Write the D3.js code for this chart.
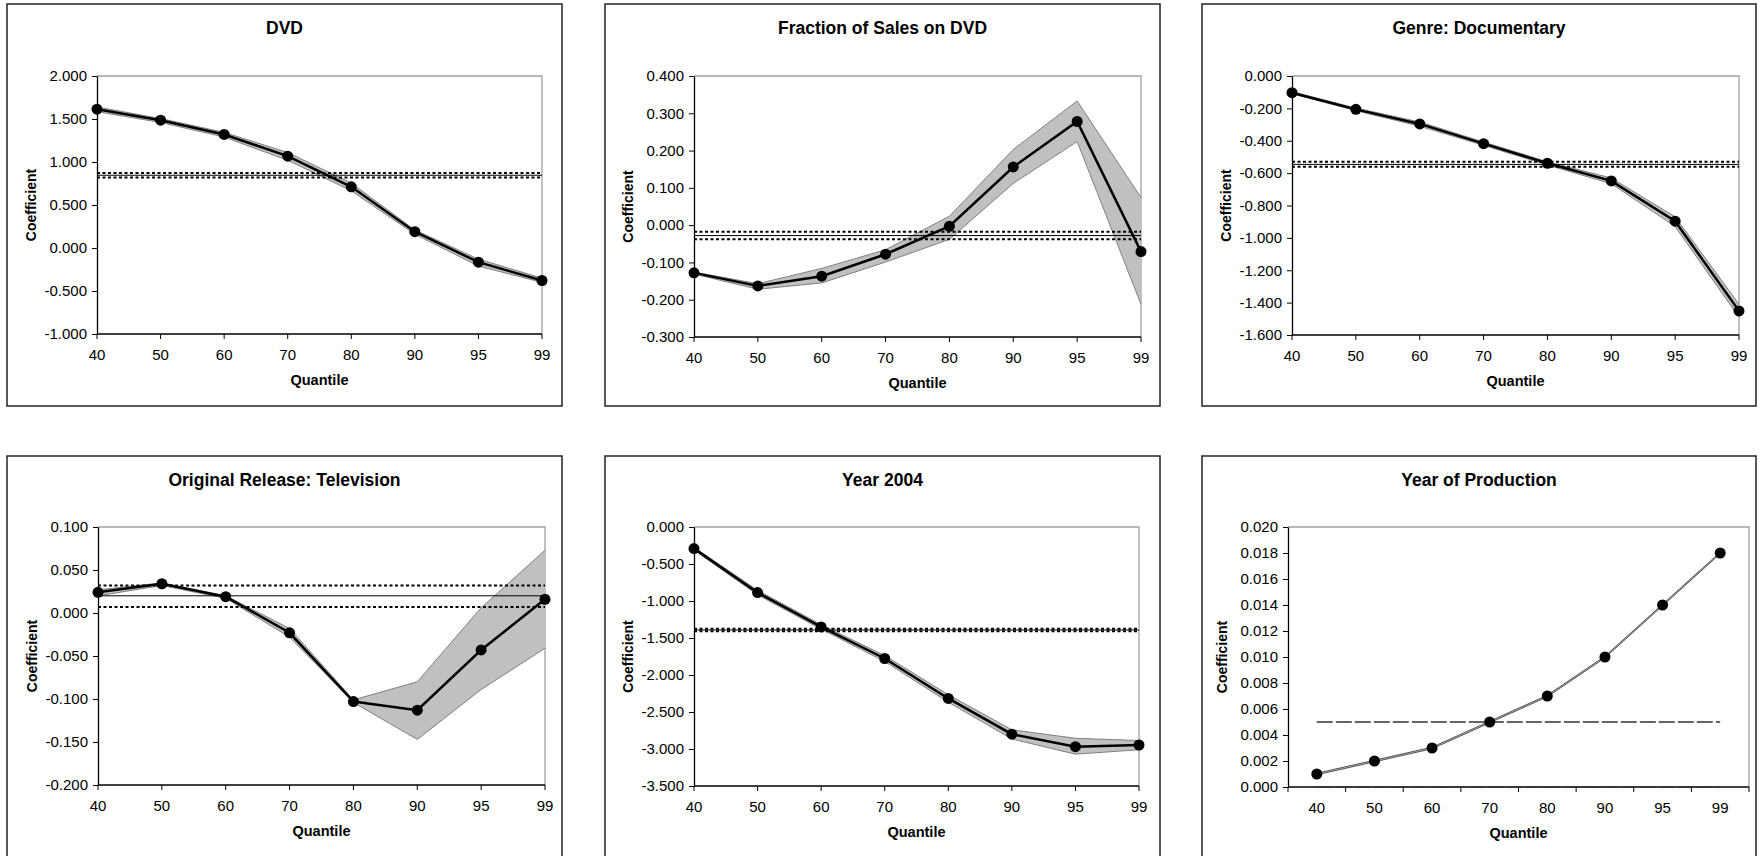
<!DOCTYPE html>
<html>
<head>
<meta charset="utf-8">
<script src="https://cdn.jsdelivr.net/npm/d3@7"></script>
<style>
    html, body { margin: 0; padding: 0; background: #fff; }
    svg { display: block; font-family: Arial, "Liberation Sans", sans-serif; }
</style>
</head>
<body>
<svg id="chart" width="1760" height="856"></svg>
<script>
// quantile regression coefficients
const quantiles = ['40', '50', '60', '70', '80', '90', '95', '99'];

const dvdCoef  = [1.614, 1.486, 1.320, 1.068, 0.712, 0.190, -0.165, -0.378];
const dvdUpper = [1.640, 1.505, 1.345, 1.110, 0.755, 0.210, -0.130, -0.350];
const dvdLower = [1.585, 1.460, 1.290, 1.020, 0.665, 0.160, -0.210, -0.400];
const dvdOls   = [0.846, 0.821, 0.871];

const fracCoef  = [-0.128, -0.163, -0.137, -0.078, -0.003, 0.156, 0.278, -0.071];
const fracUpper = [-0.126, -0.157, -0.116, -0.066, 0.024, 0.203, 0.333, 0.074];
const fracLower = [-0.131, -0.172, -0.155, -0.099, -0.038, 0.112, 0.224, -0.212];
const fracOls   = [-0.028, -0.038, -0.018];

const docCoef  = [-0.103, -0.206, -0.296, -0.418, -0.539, -0.648, -0.897, -1.451];
const docUpper = [-0.097, -0.198, -0.284, -0.408, -0.530, -0.630, -0.870, -1.410];
const docLower = [-0.110, -0.214, -0.310, -0.428, -0.550, -0.665, -0.930, -1.490];
const docOls   = [-0.546, -0.560, -0.530];

const tvCoef  = [0.024, 0.034, 0.019, -0.023, -0.103, -0.113, -0.043, 0.016];
const tvUpper = [0.027, 0.035, 0.020, -0.018, -0.101, -0.080, 0.006, 0.073];
const tvLower = [0.020, 0.032, 0.017, -0.028, -0.104, -0.147, -0.089, -0.041];
const tvOls   = [0.020, 0.007, 0.032];

const y04Coef  = [-0.292, -0.886, -1.350, -1.777, -2.317, -2.800, -2.969, -2.946];
const y04Upper = [-0.272, -0.856, -1.320, -1.737, -2.267, -2.740, -2.855, -2.885];
const y04Lower = [-0.312, -0.916, -1.380, -1.817, -2.367, -2.865, -3.070, -3.010];
const y04Ols   = [-1.392, -1.408, -1.376];

const prodCoef  = [0.0010, 0.0020, 0.0030, 0.0050, 0.0070, 0.0100, 0.0140, 0.0180];
const prodUpper = [0.00106, 0.00206, 0.00306, 0.00506, 0.00706, 0.01006, 0.01406, 0.01806];
const prodLower = [0.00094, 0.00194, 0.00294, 0.00494, 0.00694, 0.00994, 0.01394, 0.01794];
const prodOls   = [0.005, 0.000];

const titles = ['DVD', 'Fraction of Sales on DVD', 'Genre: Documentary',
    'Original Release: Television', 'Year 2004', 'Year of Production'];
const yDomains = [[-1, 2], [-0.3, 0.4], [-1.6, 0], [-0.2, 0.1], [-3.5, 0], [0, 0.02]];
const yTickSteps = [0.5, 0.1, 0.2, 0.05, 0.5, 0.002];

// layout (pixels)
const boxes = [
    { x: 7, y: 4, w: 555, h: 402 }, { x: 605, y: 4, w: 555, h: 402 }, { x: 1202, y: 4, w: 554, h: 402 },
    { x: 7, y: 456, w: 555, h: 402 }, { x: 605, y: 456, w: 555, h: 402 }, { x: 1202, y: 456, w: 554, h: 402 }
];
const plots = [
    { l: 97, r: 542, t: 76, b: 334 }, { l: 694, r: 1141, t: 76, b: 337 }, { l: 1292, r: 1739, t: 76, b: 335 },
    { l: 98, r: 545, t: 527, b: 785 }, { l: 694, r: 1139, t: 527, b: 786 }, { l: 1288, r: 1749, t: 527, b: 787 }
];

const panels = [
    { coef: dvdCoef, upper: dvdUpper, lower: dvdLower, ols: dvdOls },
    { coef: fracCoef, upper: fracUpper, lower: fracLower, ols: fracOls },
    { coef: docCoef, upper: docUpper, lower: docLower, ols: docOls },
    { coef: tvCoef, upper: tvUpper, lower: tvLower, ols: tvOls },
    { coef: y04Coef, upper: y04Upper, lower: y04Lower, ols: y04Ols },
    { coef: prodCoef, upper: prodUpper, lower: prodLower, ols: prodOls, between: true }
];

const svg = d3.select('#chart');

function drawPanel(i) {
    const p = panels[i];
    const box = boxes[i];
    const pl = plots[i];
    const g = svg.append('g');

    g.append('rect')
        .attr('x', box.x).attr('y', box.y)
        .attr('width', box.w).attr('height', box.h)
        .attr('fill', '#fff').attr('stroke', '#222').attr('stroke-width', 1.5);

    g.append('text')
        .attr('x', box.x + box.w / 2).attr('y', box.y + 30)
        .attr('text-anchor', 'middle')
        .attr('font-size', 17.5).attr('font-weight', 'bold')
        .text(titles[i]);

    // x scale: values on tick marks, or between them for the last panel
    let x, xTick;
    if (p.between) {
        const band = d3.scaleBand().domain(quantiles).range([pl.l, pl.r]).padding(0);
        x = q => band(q) + band.bandwidth() / 2;
        xTick = quantiles.map(q => band(q)).concat([pl.r]);
    } else {
        const pt = d3.scalePoint().domain(quantiles).range([pl.l, pl.r]).padding(0);
        x = q => pt(q);
        xTick = quantiles.map(q => pt(q));
    }

    const y = d3.scaleLinear().domain(yDomains[i]).range([pl.b, pl.t]);
    const [y0, y1] = yDomains[i];
    const nTicks = Math.round((y1 - y0) / yTickSteps[i]);
    const yTicks = d3.range(nTicks + 1).map(k => +(y0 + k * yTickSteps[i]).toFixed(4));

    // plot frame: top and right in grey
    g.append('path')
        .attr('d', `M${pl.l},${pl.t}H${pl.r}V${pl.b}`)
        .attr('fill', 'none').attr('stroke', '#a0a0a0').attr('stroke-width', 1.3);

    const yAxis = g.append('g')
        .attr('transform', `translate(${pl.l},0)`)
        .call(d3.axisLeft(y).tickValues(yTicks).tickSize(5).tickSizeOuter(0)
            .tickFormat(d => d.toFixed(3)));
    yAxis.select('.domain').attr('stroke', '#000').attr('stroke-width', 1.3);
    yAxis.selectAll('.tick line').attr('stroke', '#000');
    yAxis.selectAll('.tick text')
        .attr('x', -10)
        .attr('font-size', 15).attr('font-family', 'Arial, "Liberation Sans", sans-serif')
        .attr('fill', '#000');

    // x axis
    g.append('line')
        .attr('x1', pl.l).attr('x2', pl.r)
        .attr('y1', pl.b).attr('y2', pl.b)
        .attr('stroke', '#000').attr('stroke-width', 1.3);
    g.selectAll('.xtick')
        .data(xTick)
        .join('line')
        .attr('x1', d => d).attr('x2', d => d)
        .attr('y1', pl.b).attr('y2', pl.b + 5)
        .attr('stroke', '#000').attr('stroke-width', 1);
    g.selectAll('.xlabel')
        .data(quantiles)
        .join('text')
        .attr('x', d => x(d)).attr('y', pl.b + 26)
        .attr('text-anchor', 'middle')
        .attr('font-size', 15)
        .text(d => d);

    g.append('text')
        .attr('x', (pl.l + pl.r) / 2).attr('y', pl.b + 51)
        .attr('text-anchor', 'middle')
        .attr('font-size', 14.5).attr('font-weight', 'bold')
        .text('Quantile');

    g.append('text')
        .attr('transform', `translate(${pl.l - 61},${(pl.t + pl.b) / 2}) rotate(-90)`)
        .attr('text-anchor', 'middle')
        .attr('font-size', 14).attr('font-weight', 'bold')
        .text('Coefficient');

    // confidence band
    const rows = quantiles.map((q, k) => ({ q, c: p.coef[k], u: p.upper[k], lo: p.lower[k] }));
    const area = d3.area().x(d => x(d.q)).y0(d => y(d.lo)).y1(d => y(d.u));
    g.append('path')
        .attr('d', area(rows))
        .attr('fill', '#c0c0c0').attr('stroke', 'none');
    const edge = p.between ? '#555' : '#808080';
    ['u', 'lo'].forEach(key => {
        g.append('path')
            .attr('d', d3.line().x(d => x(d.q)).y(d => y(d[key]))(rows))
            .attr('fill', 'none').attr('stroke', edge).attr('stroke-width', 1);
    });

    // OLS estimate and its interval
    if (p.between) {
        p.ols.forEach(v => {
            g.append('line')
                .attr('x1', x(quantiles[0])).attr('x2', x(quantiles[quantiles.length - 1]))
                .attr('y1', y(v)).attr('y2', y(v))
                .attr('stroke', '#333').attr('stroke-width', 1.5)
                .attr('stroke-dasharray', '16,3');
        });
    } else {
        g.append('line')
            .attr('x1', pl.l).attr('x2', pl.r)
            .attr('y1', y(p.ols[0])).attr('y2', y(p.ols[0]))
            .attr('stroke', '#000').attr('stroke-width', 1);
        p.ols.slice(1).forEach(v => {
            g.append('line')
                .attr('x1', pl.l).attr('x2', pl.r)
                .attr('y1', y(v)).attr('y2', y(v))
                .attr('stroke', '#000').attr('stroke-width', 2)
                .attr('stroke-dasharray', '3,2.5');
        });
    }

    if (!p.between) {
        g.append('path')
            .attr('d', d3.line().x(d => x(d.q)).y(d => y(d.c))(rows))
            .attr('fill', 'none').attr('stroke', '#000').attr('stroke-width', 2.5);
    }

    g.selectAll('.pt')
        .data(rows)
        .join('circle')
        .attr('cx', d => x(d.q)).attr('cy', d => y(d.c))
        .attr('r', 5.5)
        .attr('fill', '#000');
}

panels.forEach((p, i) => drawPanel(i));
</script>
</body>
</html>
